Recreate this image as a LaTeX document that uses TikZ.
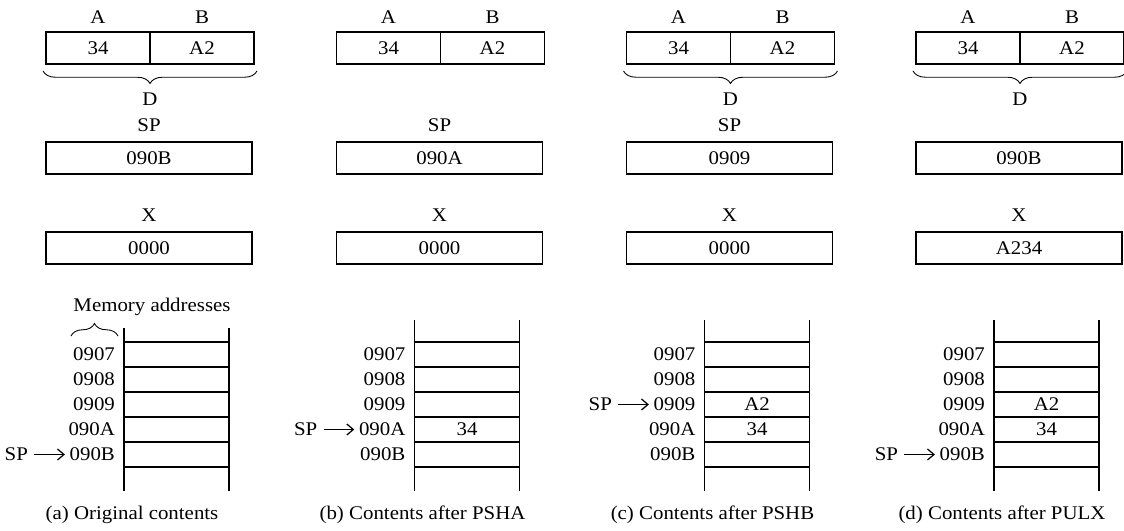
\documentclass[tikz,border=0pt]{standalone}
\usepackage{fontspec}
\setmainfont{Liberation Serif}[FakeStretch=1.08]
\usetikzlibrary{arrows.meta,positioning,decorations.pathreplacing}

\begin{document}
\begin{tikzpicture}[
  x=0.02cm,y=-0.02cm,
  node distance=7.5mm,
  font=\fontsize{11}{13}\selectfont,
  cell/.style={draw,line width=0.7pt,minimum width=2.08cm,minimum height=0.64cm,
    inner sep=0pt,outer sep=0pt},
  wide/.style={cell,minimum width=4.12cm},
  adr/.style={anchor=east,inner sep=1pt},
  lab/.style={inner sep=1pt},
  stk/.style={line width=0.9pt},
  row/.style={line width=0.7pt},
  brc/.style={decorate,decoration={brace,amplitude=0.25cm},line width=0.5pt},
  ptr/.style={-{Straight Barb[length=1.3mm,width=2.2mm,line width=0.7pt]},line width=0.6pt,
    shorten <=2.5pt,shorten >=1.5pt}]
\useasboundingbox (0,0) rectangle (1124,530);
\foreach \p/\dx/\hasd/\sptxt/\spv/\xv/\top/\ptr/\cc/\cd/\capt in {
  a/0/1/SP/090B/0000/328/5///{(a) Original contents},
  b/290.5/0/SP/090A/0000/320/4//34/{(b) Contents after PSHA},
  c/580.5/1/SP/0909/0000/320/3/A2/34/{(c) Contents after PSHB},
  d/870/1//090B/A234/320/5/A2/34/{(d) Contents after PULX}}{
  \begin{scope}[shift={(\dx,0)}]
  % registers
  \node[cell] (ra\p) at (98,48) {34};
  \node[cell,right=0pt of ra\p] (rb\p) {A2};
  \node[lab,above=1.2mm of ra\p] (la\p) {A};
  \node[lab,above=1.2mm of rb\p] (lb\p) {B};
  \ifnum\hasd=1
    \draw[brc] ([xshift=0.06cm,yshift=-0.14cm]rb\p.south east)
      -- ([xshift=-0.06cm,yshift=-0.14cm]ra\p.south west);
    \node[lab] (d\p) at (150,99) {D};
  \fi
  \node[lab] (spl\p) at (149,125) {\sptxt};
  \node[wide] (sp\p) at (149,158) {\spv};
  \node[lab] (xl\p) at (149,215) {X};
  \node[wide] (x\p) at (149,248) {\xv};
  % stack
  \draw[stk] (124,\top) -- (124,491) (229,\top) -- (229,491);
  \foreach \k in {0,...,5}
    \draw[row] (124,342+25*\k) -- (229,342+25*\k);
  \foreach \a [count=\r] in {0907,0908,0909,090A,090B}
    \node[adr] (m\p-\r) at (117,329.5+25*\r) {\a};
  \node (c\p-3) at (176.5,404.5) {\cc};
  \node (c\p-4) at (176.5,429.5) {\cd};
  \node[lab,left=of m\p-\ptr] (s\p) {SP};
  \draw[ptr] (s\p) -- (m\p-\ptr);
  \node (cap\p) at (132,515) {\capt};
  \end{scope}
}
\node (mem) at (152,307) {Memory addresses};
\draw[brc] (71,336) -- (118,336);
\end{tikzpicture}
\end{document}
